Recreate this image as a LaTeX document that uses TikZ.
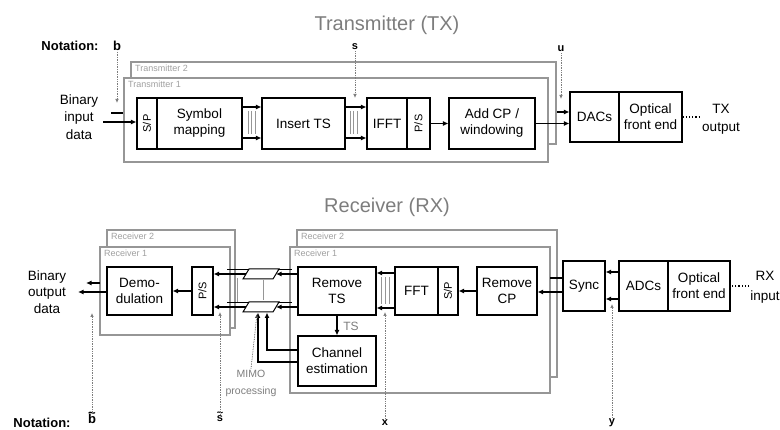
\documentclass[tikz,border=0pt]{standalone}
\usepackage{fontspec}
\setmainfont{Liberation Sans}
\usepackage{graphicx}
\usetikzlibrary{arrows.meta}
\definecolor{cgray}{RGB}{150,150,150}
\definecolor{tgray}{RGB}{125,125,125}
\definecolor{lgray}{RGB}{160,160,160}
\newcommand{\tildeover}[1]{\ooalign{#1\cr\hidewidth\raisebox{0.5em}{\char"007E}\hidewidth\cr}}
\begin{document}
\begin{tikzpicture}[x=1pt,y=-1pt,
 blk/.style={draw, line width=1.1pt, fill=white, inner sep=0pt, align=center, font=\fontsize{13.5}{16}\selectfont},
 narrow/.style={blk, font=\fontsize{11}{12}\selectfont},
 cont/.style={draw=cgray, line width=1.2pt, fill=white},
 clabel/.style={anchor=north west, inner sep=0pt, text=lgray, font=\fontsize{9}{10}\selectfont},
 arr/.style={line width=1.8pt, -{Latex[length=5.5pt,width=5pt]}},
 thk/.style={line width=1.8pt},
 thintwo/.style={line width=0.9pt},
 streams/.style={cgray, line width=0.6pt},
 notl/.style={tgray, line width=0.7pt, densely dotted, -{Latex[length=4pt,width=3.5pt]}},
 fe/.style={line width=1.2pt, dotted},
 lbl/.style={inner sep=1pt, align=center, font=\fontsize{13.5}{17.5}\selectfont},
 nota/.style={inner sep=1pt, font=\bfseries\fontsize{13}{15}\selectfont},
 notas/.style={inner sep=1pt, font=\bfseries\fontsize{11}{12}\selectfont},
 ttl/.style={text=tgray, font=\fontsize{20}{24}\selectfont},
 para/.style={draw, line width=1pt, fill=white}
]
\useasboundingbox (0,0) rectangle (780,430);

% titles
\node[ttl] (ttx) at (387,25) {Transmitter (TX)};
\node[ttl] (trx) at (387,207) {Receiver (RX)};

% ---------------- TX containers
\draw[cont] (131,62) rectangle (556,144);
\draw[cont] (124,78) rectangle (548,162);
\node[clabel] (lt2) at (135,65) {Transmitter 2};
\node[clabel] (lt1) at (128,81) {Transmitter 1};

% TX blocks
\node[narrow, minimum width=20pt, minimum height=51pt] (tsp) at (147,123.5) {\rotatebox{90}{S/P}};
\node[blk, minimum width=85pt, minimum height=51pt] (tsym) at (199.5,123.5) {Symbol\\mapping};
\node[blk, minimum width=83pt, minimum height=51pt] (tins) at (303.5,123.5) {Insert TS};
\node[blk, minimum width=40pt, minimum height=51pt] (tifft) at (387,123.5) {IFFT};
\node[narrow, minimum width=23pt, minimum height=51pt] (tps) at (418.5,123.5) {\rotatebox{90}{P/S}};
\node[blk, minimum width=86pt, minimum height=51pt] (tcp) at (492,123.5) {Add CP /\\windowing};
\node[blk, minimum width=49pt, minimum height=50pt] (tdac) at (594.5,117) {DACs};
\node[blk, minimum width=63pt, minimum height=50pt] (tofe) at (650.5,117) {Optical\\front end};

\node[lbl] (bin) at (79,117) {Binary\\input\\data};
\node[lbl, font=\fontsize{13.5}{18}\selectfont] (txout) at (721,119) {TX\\output};

% TX connectors
\coordinate (y107) at (0,107);
\coordinate (y138) at (0,138);
\coordinate (tin) at (103,122);
\coordinate (tda) at (111,113);
\coordinate (tdb) at (123,113);
\coordinate (u0) at (557,112);
\draw[arr] (tin) -- (tsp.west |- tin);
\draw[thk] (tda) -- (tdb);
\draw[streams] (248,111) -- (248,134) (251.5,111) -- (251.5,134) (255,111) -- (255,134);
\draw[streams] (350,111) -- (350,134) (353.5,111) -- (353.5,134) (357,111) -- (357,134);
\draw[arr] (tsym.east |- y107) -- (tins.west |- y107);
\draw[arr] (tsym.east |- y138) -- (tins.west |- y138);
\draw[arr] (tins.east |- y107) -- (tifft.west |- y107);
\draw[arr] (tins.east |- y138) -- (tifft.west |- y138);
\draw[arr] (tps) -- (tcp);
\draw[arr] (tcp.east) -- (tdac.west |- tcp.east);
\draw[arr] (u0) -- (tdac.west |- u0);
\draw[fe] (tofe.east) -- (txout.west |- tofe.east);

% ---------------- RX containers
\draw[cont] (107,230) rectangle (235,328);
\draw[cont] (100,247) rectangle (230,335);
\node[clabel] (lr2a) at (111,233) {Receiver 2};
\node[clabel] (lr1a) at (104,250) {Receiver 1};
\draw[cont] (297,230) rectangle (557,377);
\draw[cont] (290,247) rectangle (550,393);
\node[clabel] (lr2b) at (301,233) {Receiver 2};
\node[clabel] (lr1b) at (294,250) {Receiver 1};

% RX blocks
\node[blk, minimum width=65pt, minimum height=48pt] (rdem) at (139.5,291) {Demo-\\dulation};
\node[narrow, minimum width=21pt, minimum height=48pt] (rps) at (202.5,291) {\rotatebox{90}{P/S}};
\node[blk, minimum width=78pt, minimum height=48pt] (rrts) at (337,291) {Remove\\TS};
\node[blk, minimum width=78pt, minimum height=50pt] (rce) at (337,361) {Channel\\estimation};
\node[blk, minimum width=43pt, minimum height=48pt] (rfft) at (416.5,291) {FFT};
\node[narrow, minimum width=20pt, minimum height=48pt] (rsp) at (448,291) {\rotatebox{90}{S/P}};
\node[blk, minimum width=60pt, minimum height=48pt] (rrcp) at (507,291) {Remove\\CP};
\node[blk, minimum width=42pt, minimum height=50pt] (rsync) at (584,286) {Sync};
\node[blk, minimum width=49pt, minimum height=50pt] (radc) at (643.5,286) {ADCs};
\node[blk, minimum width=62pt, minimum height=50pt] (rofe) at (699,286) {Optical\\front end};

\node[lbl, font=\fontsize{13.5}{16.5}\selectfont] (bout) at (47,292) {Binary\\output\\data};
\node[lbl, font=\fontsize{13.5}{20}\selectfont] (rxin) at (765,287) {RX\\input};

% MIMO parallelograms
\draw[streams] (237,278) -- (237,302) (263,280) -- (263,300) (289,278) -- (289,302);
\coordinate (mAnw) at (249,269);
\coordinate (mAne) at (279,269);
\coordinate (mAe) at (276,274);
\coordinate (mAw) at (246,274);
\coordinate (mBnw) at (249,302);
\coordinate (mBne) at (279,302);
\coordinate (mBe) at (276,307);
\coordinate (mBw) at (246,307);
\draw[para] (243,279) -- (mAnw) -- (mAne) -- (273,279) -- cycle;
\draw[para] (243,312) -- (mBnw) -- (mBne) -- (273,312) -- cycle;

% RX connectors
\coordinate (y272) at (0,272);
\coordinate (y299) at (0,299);
\coordinate (y292) at (0,292);
\coordinate (y278) at (0,278);
\coordinate (y273) at (0,273);
\coordinate (y308) at (0,308);
\coordinate (y350) at (0,350);
\coordinate (y362) at (0,362);
\coordinate (sy0) at (550,278);
\draw[fe] (rxin.west |- rofe.east) -- (rofe.east);
\draw[arr] (radc.west |- y272) -- (rsync.east |- y272);
\draw[arr] (radc.west |- y299) -- (rsync.east |- y299);
\draw[arr] (rsync.west |- y292) -- (rrcp.east |- y292);
\draw[thk] (rsync.west |- y278) -- (sy0);
\draw[arr] (rrcp) -- (rsp);
\draw[streams] (381,277) -- (381,304) (385,277) -- (385,304) (389,277) -- (389,304);
\draw[arr] (rfft.west |- y273) -- (rrts.east |- y273);
\draw[arr] (rfft.west |- y308) -- (rrts.east |- y308);
\draw[arr] (rrts.west |- mAe) -- (mAe);
\draw[arr] (rrts.west |- mBe) -- (mBe);
\draw[arr] (mAw) -- (rps.east |- mAw);
\draw[arr] (mBw) -- (rps.east |- mBw);
\coordinate (dA1) at (292,269);
\coordinate (dA2) at (227,269);
\coordinate (dB1) at (292,302);
\coordinate (dB2) at (227,302);
\draw[thintwo] (mAne) -- (dA1);
\draw[thintwo] (mAnw) -- (dA2);
\draw[thintwo] (mBne) -- (dB1);
\draw[thintwo] (mBnw) -- (dB2);
\draw[arr] (rrts.south) -- (rce.north);
\node[text=tgray, inner sep=0pt, font=\fontsize{12}{12}\selectfont] (tsl) at (351,326) {TS};
\coordinate (ceA) at (267,312.5);
\coordinate (ceB) at (258,312.5);
\draw[arr] (rce.west |- y350) -| (ceA);
\draw[arr] (rce.west |- y362) -| (ceB);
\draw[arr] (rps) -- (rdem);
\coordinate (bo) at (78,292);
\coordinate (bo1) at (100,283);
\coordinate (bo2) at (86,283);
\draw[arr] (rdem.west |- bo) -- (bo);
\draw[arr] (bo1) -- (bo2);

\node[text=tgray, align=center, inner sep=1pt, font=\fontsize{10.5}{17}\selectfont] (mimo) at (251,383) {MIMO\\processing};
\coordinate (mimoend) at (257,314);
\draw[notl, black!70] (mimo.north) -- (mimoend);

% ---------------- notation
\node[nota] (nt) at (70,46) {Notation:};
\node[nota] (nb) at (117,46) {b};
\node[notas] (ns) at (355,47) {s};
\node[notas] (nu) at (561,49) {u};
\coordinate (eb) at (117,103);
\coordinate (es) at (355,98);
\coordinate (eu) at (561,99);
\draw[notl] (nb.south) -- (eb);
\draw[notl] (ns.south) -- (es);
\draw[notl] (nu.south) -- (eu);

\node[nota] (nt2) at (42,423) {Notation:};
\node[nota] (nbt) at (92,419) {\tildeover{b}};
\node[notas] (nst) at (220,419) {\tildeover{s}};
\node[notas] (nx) at (385,423) {x};
\node[notas] (ny) at (612,423) {y};
\coordinate (ebt) at (92,313);
\coordinate (est) at (220,312);
\coordinate (ex) at (385,312);
\coordinate (ey) at (612,304);
\draw[notl] (nbt.north) -- (ebt);
\draw[notl] (nst.north) -- (est);
\draw[notl] (nx.north) -- (ex);
\draw[notl] (ny.north) -- (ey);
\end{tikzpicture}
\end{document}
